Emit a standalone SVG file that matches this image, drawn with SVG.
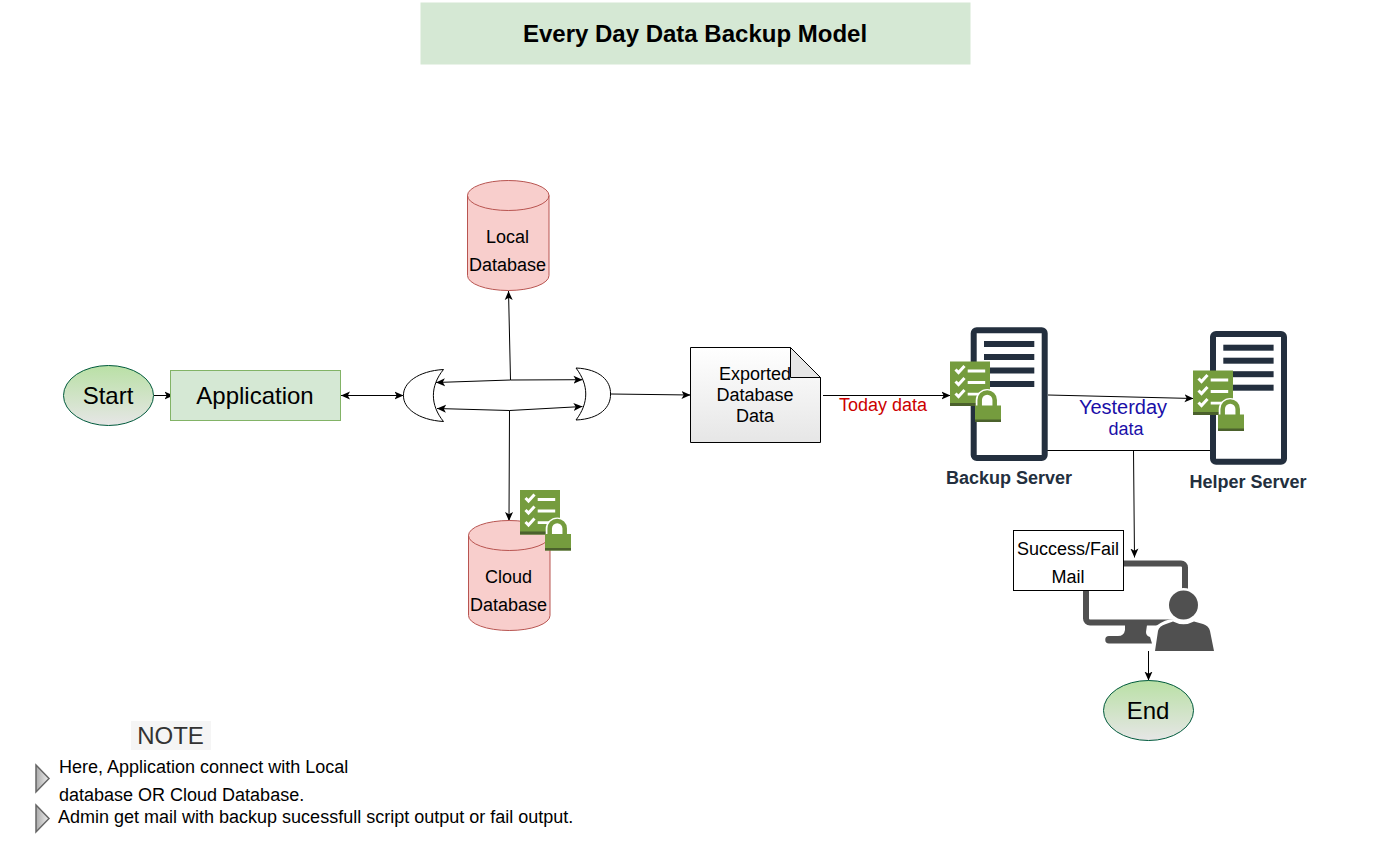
<svg xmlns="http://www.w3.org/2000/svg" width="1400" height="850" viewBox="0 0 1400 850">
<style>
text{font-family:"Liberation Sans",Arial,sans-serif;font-size:18px;fill:#000;text-anchor:middle}
.big{font-size:24px}
.l{text-anchor:start}
.conn{fill:none;stroke:#000;stroke-width:1}
.term{fill:url(#gTerm);stroke:#005a3c;stroke-width:1}
.cyl{fill:#f8cecc;stroke:#b85450;stroke-width:1}
.gate{fill:#fff;stroke:#000;stroke-width:1}
.srvl{fill:#232f3e}
.srvt{font-weight:bold;fill:#232f3e}
.tri{fill:url(#gTri);stroke:#666;stroke-width:1.5}
</style>
<defs>
<linearGradient id="gTerm" x1="0" y1="0" x2="0" y2="1"><stop offset="0" stop-color="#b9e0a5"/><stop offset="1" stop-color="#e6e6e6"/></linearGradient>
<linearGradient id="gDoc" x1="0" y1="0" x2="0" y2="1"><stop offset="0" stop-color="#ffffff"/><stop offset="1" stop-color="#e6e6e6"/></linearGradient>
<linearGradient id="gTri" x1="0" y1="0" x2="1" y2="0"><stop offset="0" stop-color="#aaaaaa"/><stop offset="1" stop-color="#eeeeee"/></linearGradient>
<marker id="a" viewBox="0 0 9 9" refX="9" refY="4.500" markerWidth="9" markerHeight="9" markerUnits="userSpaceOnUse" orient="auto-start-reverse"><path d="M0 0.500L9 4.500L0 8.500L2.200 4.500Z" fill="#000"/></marker>
<g id="comp">
<rect x="0" y="0" width="40" height="44.500" fill="#759c3e"/>
<rect x="0" y="41.500" width="40" height="3" fill="#4b612c"/>
<path d="M5.500 8l3 3l6-6.500M5.500 20l3 3l6-6.500M5.500 32l3 3l6-6.500" fill="none" stroke="#fff" stroke-width="3"/>
<path d="M17.700 9.500h17.500M17.700 21h17.500M17.700 32.700h17.500" fill="none" stroke="#fff" stroke-width="2.800"/>
<path d="M29.200 46V39a8 8 0 0 1 16 0V46Z" fill="#fff" stroke="#fff" stroke-width="7"/>
<path d="M29.700 46V38.500a7.500 7.500 0 0 1 15 0V46" fill="#fff" stroke="#759c3e" stroke-width="4.500"/>
<rect x="25" y="44" width="26" height="16.500" fill="#759c3e"/>
<rect x="25" y="58" width="26" height="2.500" fill="#4b612c"/>
</g>
<g id="srv">
<rect x="0" y="0" width="71" height="127.700" rx="3" fill="#fff" stroke="#232f3e" stroke-width="6"/>
<rect class="srvl" x="10.300" y="10.700" width="50.300" height="6"/>
<rect class="srvl" x="10.300" y="23.700" width="50.300" height="6"/>
<rect class="srvl" x="10.300" y="37.200" width="50.300" height="6"/>
<rect class="srvl" x="10.300" y="50.700" width="50.300" height="6"/>
</g>
</defs>
<rect width="1400" height="850" fill="#fff"/>

<g id="title"><rect x="421" y="3" width="549" height="61" fill="#d5e8d4" stroke="#d5e8d4"/><text x="695" y="42" class="big" style="font-weight:bold">Every Day Data Backup Model</text></g>

<g id="connectors">
<path class="conn" marker-end="url(#a)" d="M154 395.500H173.500"/>
<path class="conn" marker-start="url(#a)" marker-end="url(#a)" d="M341 395.500H403.500"/>
<path class="conn" marker-end="url(#a)" d="M510.500 380L436 382.500"/>
<path class="conn" marker-end="url(#a)" d="M510.500 380L582.500 379.700"/>
<path class="conn" marker-end="url(#a)" d="M510.500 380L508.500 291"/>
<path class="conn" marker-end="url(#a)" d="M509.500 410.500L437 408.500"/>
<path class="conn" marker-end="url(#a)" d="M509.500 410.500L582.500 406.500"/>
<path class="conn" marker-end="url(#a)" d="M509.500 410.500L509 521"/>
<path class="conn" marker-end="url(#a)" d="M611 394L690.500 395"/>
<path class="conn" marker-end="url(#a)" d="M823 395.500H950.500"/>
<path class="conn" marker-end="url(#a)" d="M1048 395L1193.500 398.500"/>
<path class="conn" d="M1044 450.500H1210"/>
<path class="conn" marker-end="url(#a)" d="M1133.500 450.500L1134.500 557.500"/>
<path class="conn" marker-end="url(#a)" d="M1148.500 651V680.500"/>
</g>

<g id="start"><ellipse class="term" cx="108.500" cy="395.500" rx="45" ry="30"/><text x="108" y="404" class="big">Start</text></g>
<g id="application"><rect x="170.500" y="370.500" width="170" height="50" fill="#d5e8d4" stroke="#82b366"/><text x="255" y="404" class="big">Application</text></g>

<g id="gate-left"><path class="gate" d="M443.500 369.500C418 371 403 383 403.500 395.500C403 408 418 420 443.500 421.500C430 405 430 386 443.500 369.500Z"/></g>
<g id="gate-right"><path class="gate" d="M576 368C600 369 611 381 610.500 394C611 407 600 419 576 420C589 403 589 385 576 368Z"/></g>

<g id="local-db"><path class="cyl" d="M467.500 195.500a40.750 15 0 0 1 81.500 0V275.500a40.750 15 0 0 1 -81.500 0Z"/><path class="cyl" style="fill:none" d="M467.500 195.500a40.750 15 0 0 0 81.500 0"/><text x="507.500" y="243">Local</text><text x="507.500" y="271">Database</text></g>
<g id="cloud-db"><path class="cyl" d="M468.500 535.500a40.750 15 0 0 1 81.500 0V615.500a40.750 15 0 0 1 -81.500 0Z"/><path class="cyl" style="fill:none" d="M468.500 535.500a40.750 15 0 0 0 81.500 0"/><text x="508.500" y="583">Cloud</text><text x="508.500" y="611">Database</text></g>
<g id="cloud-compliance"><use href="#comp" x="520" y="490"/></g>

<g id="exported"><path d="M690.500 347.500H790.500L820.500 377.500V442.500H690.500Z" fill="url(#gDoc)" stroke="#000"/><path d="M790.500 347.500V377.500H820.500Z" fill="#e6e6e6" stroke="#000"/><text x="755" y="380">Exported</text><text x="755" y="401">Database</text><text x="755" y="422">Data</text></g>

<text x="883" y="411" style="fill:#cc0000">Today data</text>

<g id="backup-server"><use href="#srv" x="973.700" y="330.300"/><use href="#comp" x="950" y="361.500"/><text x="1009" y="484" class="srvt">Backup Server</text></g>
<g id="helper-server"><use href="#srv" x="1213" y="334"/><use href="#comp" x="1193" y="370.500"/><text x="1248" y="488" class="srvt">Helper Server</text></g>

<text x="1123" y="414" style="font-size:20px;fill:#1a0fa8">Yesterday</text>
<text x="1126" y="435" style="fill:#1a0fa8">data</text>

<g id="admin">
<rect x="1086" y="563.500" width="99" height="59" rx="4" fill="#fff" stroke="#505050" stroke-width="6"/>
<path d="M1125 625H1147L1146 632Q1146 636 1150 637L1152 643.500H1109a3.500 3.500 0 0 1 0-7.500H1118Q1124 636 1125 630Z" fill="#505050"/>
<circle cx="1183.500" cy="605" r="17" fill="#fff"/>
<path d="M1151 653L1156 626Q1170 615 1183.500 621Q1197 615 1210 626L1217 653Z" fill="#fff"/>
<circle cx="1183.500" cy="605" r="14.500" fill="#505050"/>
<path d="M1155 651L1158 631Q1159 626 1166 624L1173 621.500Q1183.500 627 1194 621.500L1203 624Q1209 626 1210 631L1214 651Z" fill="#505050"/>
</g>
<g id="mail"><rect x="1013.500" y="530.500" width="110" height="60" fill="#fff" stroke="#000"/><text x="1068" y="555">Success/Fail</text><text x="1068" y="583">Mail</text></g>
<g id="end"><ellipse class="term" cx="1148.500" cy="710.500" rx="45" ry="30"/><text x="1148" y="719" class="big">End</text></g>

<g id="note"><rect x="131" y="721" width="80" height="29" fill="#f5f5f5"/><text x="170.500" y="744" class="big" style="fill:#333">NOTE</text>
<path class="tri" d="M36 765L49 778.500L36 792Z"/>
<path class="tri" d="M36 805L49 818.500L36 832Z"/>
<text x="59" y="773" class="l">Here, Application connect with Local</text>
<text x="59" y="801" class="l">database OR Cloud Database.</text>
<text x="58" y="823" class="l">Admin get mail with backup sucessfull script output or fail output.</text></g>
</svg>
